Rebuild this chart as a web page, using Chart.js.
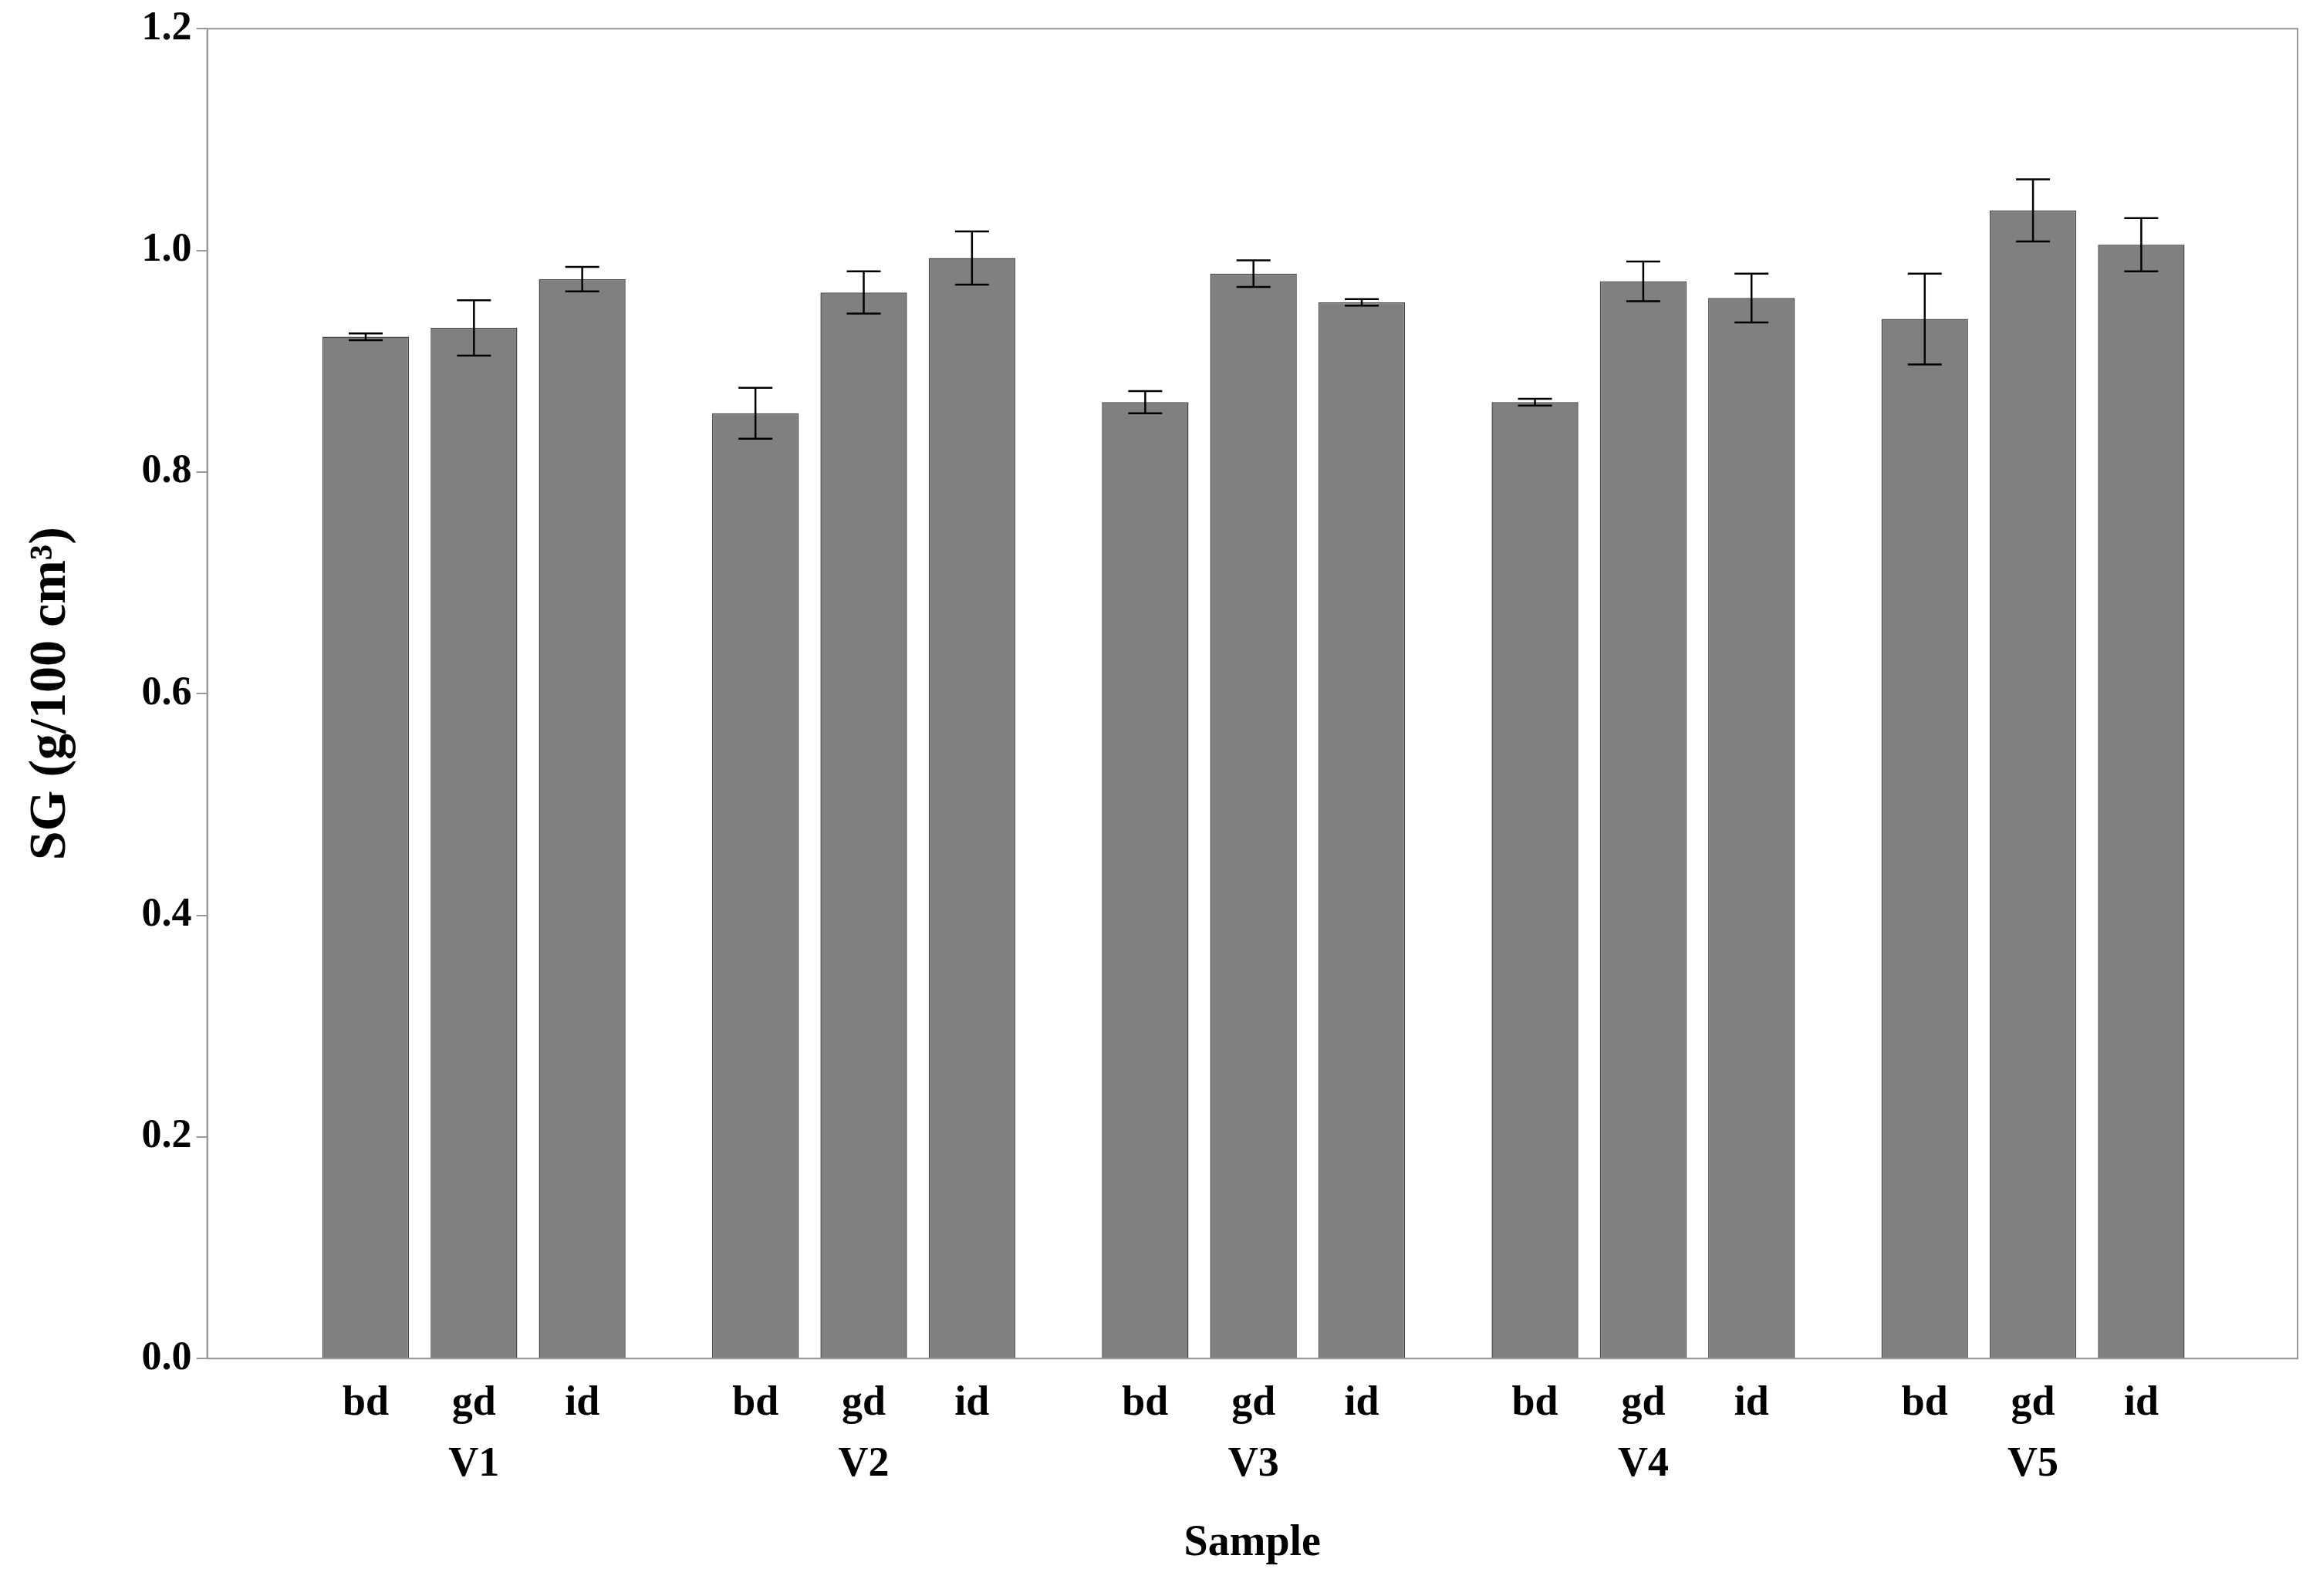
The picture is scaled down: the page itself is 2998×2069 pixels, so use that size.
<!DOCTYPE html>
<html><head><meta charset="utf-8">
<script src="https://cdn.jsdelivr.net/npm/chart.js@4"></script>
<style>html,body{margin:0;padding:0;background:#fff}#w{width:2998px;height:2069px}</style>
</head><body><div id="w"><canvas id="c"></canvas></div>
<script>
const groups=["V1","V2","V3","V4","V5"];
const methods=["bd","gd","id"];
const means=[0.922,0.930,0.974, 0.853,0.962,0.993, 0.863,0.979,0.953, 0.863,0.972,0.957, 0.938,1.036,1.005];
const errs=[0.003,0.025,0.011, 0.023,0.019,0.024, 0.010,0.012,0.003, 0.003,0.018,0.022, 0.041,0.028,0.024];
const yTicks=[0,0.2,0.4,0.6,0.8,1.0,1.2];
const GAP=3.6;
const xs=means.map((_,i)=>Math.floor(i/3)*GAP+(i%3));
const pts=means.map((v,i)=>({x:xs[i],y:v}));
const F="'Liberation Serif', serif";
const errPlugin={id:'err',afterDatasetsDraw(ch){const c=ch.ctx,x=ch.scales.x,y=ch.scales.y;c.save();c.strokeStyle='#000';c.lineWidth=2.5;
pts.forEach((p,i)=>{const px=x.getPixelForValue(p.x),t=y.getPixelForValue(p.y+errs[i]),b=y.getPixelForValue(p.y-errs[i]);c.beginPath();c.moveTo(px,t);c.lineTo(px,b);c.moveTo(px-22,t);c.lineTo(px+22,t);c.moveTo(px-22,b);c.lineTo(px+22,b);c.stroke();});
const a=ch.chartArea;c.strokeStyle='#999';c.lineWidth=2;c.strokeRect(a.left,a.top,a.right-a.left,a.bottom-a.top);c.restore();}};
new Chart(document.getElementById('c'),{type:'bar',
data:{datasets:[{data:pts,backgroundColor:'#808080',borderColor:'#444',borderWidth:1.5,barPercentage:0.8,categoryPercentage:1}]},
options:{responsive:true,maintainAspectRatio:false,devicePixelRatio:1,animation:false,
layout:{padding:{top:22,right:20,left:22,bottom:30}},
plugins:{legend:{display:false},tooltip:{enabled:false}},
scales:{
x:{type:'linear',min:-0.82,max:4*GAP+2.8,grid:{display:false},border:{color:'#999',width:2},
afterBuildTicks(s){s.ticks=xs.map(v=>({value:v}));},
ticks:{autoSkip:false,maxRotation:0,color:'#000',font:{family:F,size:54,weight:'bold',lineHeight:1.45},padding:12,
callback(v,i){const m=methods[i%3];return i%3===1?[m,groups[Math.floor(i/3)]]:[m,''];}},
title:{display:true,text:'Sample',color:'#000',font:{family:F,size:56,weight:'bold'},padding:{top:18}}},
y:{min:0,max:1.2,grid:{display:true,drawOnChartArea:false,drawTicks:true,tickLength:14,color:'#999',lineWidth:2},border:{color:'#999',width:2},
afterBuildTicks(s){s.ticks=yTicks.map(v=>({value:v}));},
ticks:{color:'#000',font:{family:F,size:52,weight:'bold'},callback:v=>v.toFixed(1),padding:6},
title:{display:true,text:'SG (g/100 cm³)',color:'#000',font:{family:F,size:68,weight:'bold'},padding:{bottom:70}}}}},
plugins:[errPlugin]});
</script></body></html>
